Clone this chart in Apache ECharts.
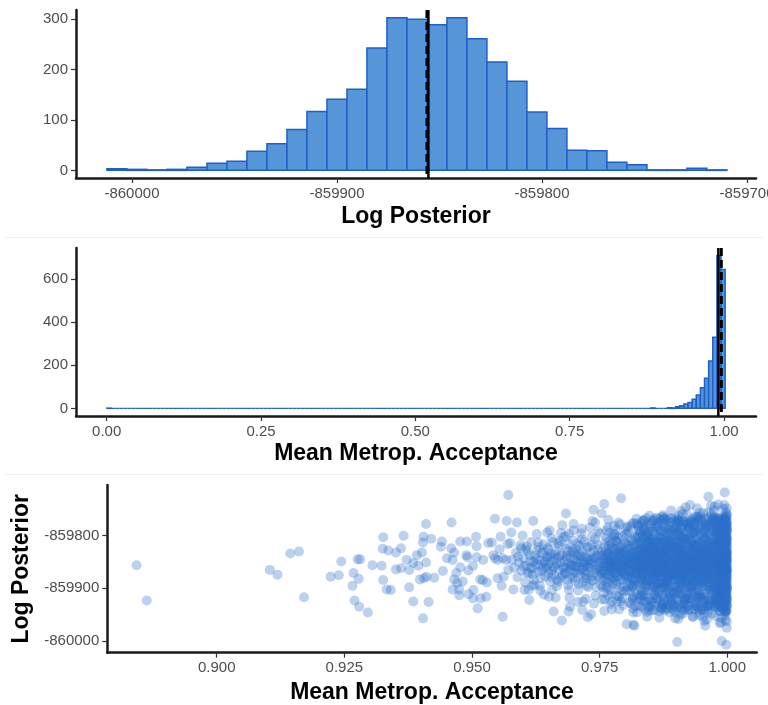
<!DOCTYPE html>
<html>
<head>
<meta charset="utf-8">
<script src="https://cdn.jsdelivr.net/npm/echarts@6/dist/echarts.min.js"></script>
<style>
  html, body { margin: 0; padding: 0; background: #fff; }
  #chart { width: 768px; height: 705px; }
</style>
</head>
<body>
<div id="chart"></div>
<script>
// ---- Log posterior histogram (31 equal-width bins) ----
const lpBinStart = -860012.2;
const lpBinWidth = 9.755;
const lpCounts = [3, 2, 1, 2, 6, 14, 18, 38, 53, 81, 117, 141, 161, 243, 303, 300,
                  289, 303, 261, 215, 177, 116, 83, 40, 39, 16, 11, 1, 1, 4, 1];
const lpMean = -859855.4;
const lpMedian = -859856.1;
const lpTicks = [-860000, -859900, -859800, -859700];
const lpCountTicks = [0, 100, 200, 300];

// ---- Mean Metropolis acceptance histogram (150 equal-width bins) ----
const accBinStart = 0.0004;
const accBinWidth = 0.006676;
const accCounts = [
  1, 0, 0, 0, 0, 0, 0, 0, 0, 0, 0, 0, 0, 0, 0, 0, 0, 0, 0, 0, 0, 0, 0, 0, 0,
  0, 0, 0, 0, 0, 0, 0, 0, 0, 0, 0, 0, 0, 0, 0, 0, 0, 0, 0, 0, 0, 0, 0, 0, 0,
  0, 0, 0, 0, 0, 0, 0, 0, 0, 0, 0, 0, 0, 0, 0, 0, 0, 0, 0, 0, 0, 0, 0, 0, 0,
  0, 0, 0, 0, 0, 0, 0, 0, 0, 0, 0, 0, 0, 0, 0, 0, 0, 0, 0, 0, 0, 0, 0, 0, 0,
  0, 0, 0, 0, 0, 0, 0, 0, 0, 0, 0, 0, 0, 0, 0, 0, 0, 0, 0, 0, 0, 0, 0, 0, 0,
  0, 0, 0, 0, 0, 0, 0, 2, 0, 0, 0, 3, 2, 8, 12, 20, 27, 42, 62, 95, 140, 220, 330, 708, 644
];
const accMean = 0.9908;
const accMedian = 0.9956;
const accTicks = [0, 0.25, 0.5, 0.75, 1.0];
const accCountTicks = [0, 200, 400, 600];

// ---- Acceptance vs log posterior, one point per draw ----
const scatterXTicks = [0.9, 0.925, 0.95, 0.975, 1.0];
const scatterYTicks = [-860000, -859900, -859800];

const sparsePts = [
  [.8843,-859856],[.8863,-859923],[.9104,-859865],[.9119,-859874],[.9144,-859834],[.9161,-859830],[.9171,-859917],
  [.9223,-859878],[.9239,-859875],[.9244,-859849],[.9268,-859871],[.9266,-859895],[.9278,-859882],[.9276,-859845],
  [.9281,-859845],[.9270,-859923],[.9279,-859935],[.9296,-859946],[.9305,-859856],[.9323,-859857],[.9325,-859825],
  [.9326,-859803],[.9326,-859884],
  [.9571,-859723],[.9366,-859800],[.9336,-859828],[.9351,-859832],[.9361,-859824],[.9333,-859902],[.9341,-859903],
  [.9351,-859864],[.9361,-859862],[.9372,-859846],[.9377,-859865],[.9385,-859852],[.9392,-859837],[.9395,-859857],
  [.9402,-859832],[.9410,-859851],[.9410,-859778],[.9405,-859802],[.9404,-859813],[.9420,-859806],[.9377,-859898],
  [.9385,-859925],[.9415,-859926],[.9404,-859957],[.9398,-859883],[.9406,-859881],[.9411,-859878],[.9426,-859880],
  [.9441,-859811],[.9439,-859821],[.9443,-859867],[.9451,-859843],[.9460,-859775],[.9459,-859824],[.9465,-859832],
  [.9462,-859846],[.9477,-859811],[.9490,-859811],[.9489,-859837],[.9491,-859841],[.9477,-859860],[.9469,-859871],
  [.9465,-859883],[.9462,-859902],[.9471,-859890],[.9475,-859902],[.9475,-859913],[.9482,-859887],[.9493,-859866],
  [.9502,-859857],[.9493,-859911],[.9503,-859903],[.9502,-859919],[.9511,-859938],[.9517,-859919],[.9528,-859916],
  [.9516,-859883],[.9521,-859884],[.9529,-859889],[.9509,-859820],[.9508,-859802],[.9509,-859841],[.9522,-859846],
  [.9532,-859814],[.9539,-859813],[.9545,-859768],[.9545,-859843],[.9542,-859837],[.9554,-859826],[.9556,-859802],
  [.9568,-859772],[.9550,-859846],[.9560,-859843],[.9567,-859846],[.9550,-859881],[.9558,-859895],[.9560,-859954],
  [.9562,-859878],[.9571,-859865],[.9570,-859816],
  [.9792,-859729],[.9759,-859740],[.9738,-859751],[.9736,-859772],[.9754,-859758],[.9684,-859758],[.9620,-859772],
  [.9588,-859775],[.9577,-859794],[.9677,-859780],[.9699,-859778],[.9714,-859796],[.9741,-859775],[.9767,-859770],
  [.9787,-859775],[.9647,-859794],[.9575,-859814],[.9596,-859824],[.9607,-859820],[.9630,-859813],[.9656,-859805],
  [.9669,-859814],[.9690,-859796],[.9715,-859807],[.9611,-859903],[.9603,-859903],[.9618,-859895],[.9633,-859895],
  [.9651,-859916],[.9660,-859944],[.9676,-859961],[.9689,-859944],[.9692,-859935],[.9716,-859941],[.9718,-859925],
  [.9727,-859955],[.9733,-859949],[.9759,-859943],[.9774,-859940],[.9788,-859940],[.9803,-859968],[.9816,-859969],
  [.9816,-859946],
  [.9963,-859726],[.9995,-859718],[.9836,-859772],[.9848,-859762],[.9874,-859761],[.9913,-859758],[.9947,-859764],
  [.9963,-859756],[.9998,-859756],[.9823,-859946],[.9818,-859971],[.9843,-859954],[.9867,-859956],[.9887,-859946],
  [.9908,-859950],[.9933,-859954],[.9957,-859971],[.9952,-859954],[.9988,-859965],[.9999,-859963],[.9902,-860002],
  [.9989,-860000],[.9998,-860007]
];

const midPts = [
  [.9578,-859846],[.9583,-859861],[.9586,-859832],[.9589,-859879],[.9592,-859851],[.9595,-859818],[.9597,-859866],
  [.9601,-859843],[.9604,-859889],[.9606,-859857],[.9609,-859829],[.9611,-859871],[.9614,-859848],[.9616,-859812],
  [.9618,-859863],[.9621,-859884],[.9623,-859838],[.9625,-859855],[.9628,-859827],[.9630,-859869],[.9632,-859846],
  [.9634,-859904],[.9636,-859834],[.9638,-859861],[.9640,-859817],[.9642,-859851],[.9644,-859878],[.9646,-859840],
  [.9647,-859862],[.9649,-859826],[.9651,-859853],[.9653,-859887],[.9655,-859835],[.9656,-859866],[.9658,-859812],
  [.9660,-859847],[.9661,-859874],[.9663,-859858],[.9665,-859829],[.9666,-859896],[.9668,-859842],[.9670,-859865],
  [.9671,-859819],[.9673,-859851],[.9675,-859880],[.9676,-859837],[.9678,-859859],[.9679,-859803],
  [.9581,-859902],[.9599,-859800],[.9612,-859922],[.9627,-859797],[.9641,-859912],[.9652,-859790],[.9664,-859918],
  [.9674,-859795],[.9590,-859840],[.9620,-859850],[.9645,-859858],[.9662,-859836],[.9635,-859880],[.9608,-859872],
  [.9657,-859903],[.9669,-859888],[.9677,-859875],[.9648,-859823],
  [.9681,-859848],[.9682,-859871],[.9684,-859825],[.9685,-859862],[.9686,-859839],[.9688,-859894],[.9689,-859853],
  [.9690,-859816],[.9692,-859866],[.9693,-859842],[.9694,-859878],[.9696,-859831],[.9697,-859857],[.9698,-859809],
  [.9700,-859869],[.9701,-859845],[.9702,-859887],[.9704,-859826],[.9705,-859858],[.9706,-859838],[.9708,-859904],
  [.9709,-859851],[.9710,-859819],[.9712,-859873],[.9713,-859844],[.9714,-859863],[.9716,-859829],[.9717,-859889],
  [.9718,-859852],[.9720,-859812],[.9721,-859867],[.9722,-859840],[.9724,-859881],[.9725,-859856],[.9726,-859823],
  [.9728,-859898],[.9729,-859846],[.9730,-859869],[.9732,-859834],[.9733,-859861],[.9734,-859802],[.9736,-859852],
  [.9737,-859885],[.9738,-859828],[.9740,-859870],[.9741,-859843],[.9742,-859914],[.9744,-859857],[.9745,-859817],
  [.9746,-859876],[.9748,-859839],[.9749,-859862],[.9750,-859796],[.9752,-859849],[.9753,-859893],[.9754,-859831],
  [.9756,-859866],[.9757,-859845],[.9758,-859908],[.9759,-859822],
  [.9683,-859801],[.9691,-859918],[.9699,-859790],[.9707,-859926],[.9715,-859787],[.9723,-859920],[.9731,-859785],
  [.9739,-859929],[.9747,-859792],[.9755,-859921],[.9687,-859884],[.9695,-859855],[.9703,-859871],[.9711,-859835],
  [.9719,-859880],[.9727,-859860],[.9735,-859818],[.9743,-859898],[.9751,-859868],[.9758,-859853],[.9685,-859843],
  [.9697,-859827],[.9709,-859892],[.9721,-859850],[.9733,-859879],[.9745,-859836],[.9757,-859884],[.9702,-859859],
  [.9726,-859842],[.9750,-859858],
  [.9760,-859847],[.9761,-859872],[.9762,-859829],[.9763,-859861],[.9764,-859805],[.9765,-859888],[.9766,-859844],
  [.9767,-859857],[.9768,-859820],[.9769,-859876],[.9770,-859838],[.9771,-859903],[.9772,-859852],[.9773,-859815],
  [.9774,-859866],[.9775,-859841],[.9776,-859880],[.9777,-859826],[.9778,-859859],[.9779,-859797],[.9780,-859870],
  [.9781,-859846],[.9782,-859893],[.9783,-859833],[.9784,-859862],[.9785,-859811],[.9786,-859877],[.9787,-859849],
  [.9788,-859916],[.9789,-859839],[.9790,-859855],[.9791,-859821],[.9792,-859884],[.9793,-859843],[.9794,-859868],
  [.9795,-859802],[.9796,-859858],[.9797,-859897],[.9798,-859831],[.9799,-859873],[.9800,-859848],[.9801,-859814],
  [.9802,-859864],[.9803,-859889],[.9804,-859836],[.9805,-859853],[.9806,-859792],[.9807,-859879],[.9808,-859845],
  [.9809,-859907],[.9810,-859825],[.9811,-859866],[.9812,-859840],[.9813,-859871],[.9814,-859808],[.9815,-859856],
  [.9816,-859894],[.9817,-859832],[.9818,-859861],[.9819,-859818],[.9820,-859883],[.9821,-859850],[.9822,-859838],
  [.9823,-859912],[.9824,-859859],[.9825,-859799],[.9826,-859874],[.9827,-859845],[.9828,-859826],[.9829,-859867],
  [.9760,-859921],[.9766,-859784],[.9772,-859930],[.9778,-859781],[.9784,-859925],[.9790,-859779],[.9796,-859932],
  [.9802,-859786],[.9808,-859927],[.9814,-859777],[.9820,-859934],[.9826,-859783],
  [.9762,-859853],[.9765,-859834],[.9768,-859868],[.9771,-859847],[.9774,-859822],[.9777,-859885],[.9780,-859857],
  [.9783,-859811],[.9786,-859842],[.9789,-859899],[.9792,-859864],[.9795,-859829],[.9798,-859851],[.9801,-859876],
  [.9804,-859817],[.9807,-859858],[.9810,-859891],[.9813,-859834],[.9816,-859853],[.9819,-859872],[.9822,-859816],
  [.9825,-859864],[.9828,-859887],
  [.9763,-859896],[.9769,-859811],[.9775,-859863],[.9781,-859872],[.9787,-859828],[.9793,-859858],[.9799,-859906],
  [.9805,-859842],[.9811,-859855],[.9817,-859884],[.9823,-859846],[.9829,-859836],
  [.9764,-859837],[.9776,-859849],[.9788,-859870],[.9800,-859833],[.9812,-859878],[.9824,-859830],[.9770,-859859],
  [.9782,-859839],[.9794,-859849],[.9806,-859866],[.9818,-859843],[.9828,-859855],
  [.9601,-859858],[.9613,-859837],[.9619,-859874],[.9626,-859845],[.9631,-859822],[.9637,-859866],[.9643,-859849],
  [.9650,-859871],[.9654,-859841],[.9659,-859860],[.9667,-859884],[.9672,-859838],[.9680,-859862],[.9687,-859830],
  [.9693,-859858],[.9699,-859880],[.9704,-859848],[.9710,-859866],[.9715,-859839],[.9719,-859857],[.9723,-859875],
  [.9727,-859821],[.9731,-859852],[.9735,-859885],[.9739,-859842],[.9743,-859864],[.9747,-859826],[.9751,-859881],
  [.9755,-859838],[.9759,-859870],
  [.9605,-859826],[.9622,-859893],[.9639,-859832],[.9656,-859879],[.9673,-859810],[.9690,-859903],[.9707,-859815],
  [.9724,-859895],[.9741,-859807],[.9756,-859898],
  [.9615,-859861],[.9632,-859855],[.9649,-859842],[.9666,-859853],[.9683,-859872],[.9700,-859833],[.9717,-859862],
  [.9734,-859846],[.9748,-859851],[.9753,-859873],
  [.9760,-859866],[.9763,-859838],[.9766,-859875],[.9769,-859852],[.9772,-859826],[.9775,-859892],[.9778,-859845],
  [.9781,-859809],[.9784,-859878],[.9787,-859861],[.9790,-859832],[.9793,-859905],[.9796,-859847],[.9799,-859815],
  [.9802,-859880],[.9805,-859826],[.9808,-859869],[.9811,-859842],[.9814,-859898],[.9817,-859857],[.9820,-859804],
  [.9823,-859871],[.9826,-859848],[.9829,-859914],
  [.9761,-859812],[.9764,-859899],[.9767,-859831],[.9770,-859884],[.9773,-859858],[.9776,-859802],[.9779,-859871],
  [.9782,-859852],[.9785,-859914],[.9788,-859822],[.9791,-859867],[.9794,-859835],[.9797,-859872],[.9800,-859798],
  [.9803,-859855],[.9806,-859897],[.9809,-859836],[.9812,-859810],[.9815,-859874],[.9818,-859828],[.9821,-859893],
  [.9824,-859841],[.9827,-859803],[.9829,-859859],
  [.9762,-859880],[.9765,-859854],[.9768,-859795],[.9771,-859862],[.9774,-859911],[.9777,-859839],[.9780,-859826],
  [.9783,-859888],[.9786,-859804],[.9789,-859853],[.9792,-859828],[.9795,-859882],[.9798,-859866],[.9801,-859845],
  [.9804,-859904],[.9807,-859818],[.9810,-859852],[.9813,-859883],[.9816,-859823],[.9819,-859846],[.9822,-859863],
  [.9825,-859920],[.9828,-859812],
  [.9764,-859790],[.9774,-859925],[.9784,-859789],[.9794,-859919],[.9804,-859782],[.9814,-859922],[.9824,-859780],
  [.9767,-859913],[.9779,-859798],[.9791,-859924],[.9803,-859796],[.9815,-859917],[.9827,-859790]
];

const densePts = [
  [.9830,-859852],[.9833,-859876],[.9836,-859824],[.9839,-859861],[.9842,-859838],[.9845,-859897],[.9848,-859845],
  [.9851,-859813],[.9854,-859869],[.9857,-859842],[.9860,-859885],[.9863,-859830],[.9866,-859858],[.9869,-859803],
  [.9872,-859872],[.9875,-859849],[.9878,-859911],[.9881,-859827],[.9884,-859863],
  [.9831,-859835],[.9834,-859799],[.9837,-859870],[.9840,-859851],[.9843,-859817],[.9846,-859881],[.9849,-859859],
  [.9852,-859926],[.9855,-859836],[.9858,-859866],[.9861,-859811],[.9864,-859892],[.9867,-859847],[.9870,-859828],
  [.9873,-859855],[.9876,-859790],[.9879,-859878],[.9882,-859843],[.9885,-859900],
  [.9832,-859888],[.9835,-859847],[.9838,-859806],[.9841,-859866],[.9844,-859853],[.9847,-859825],[.9850,-859873],
  [.9853,-859840],[.9856,-859795],[.9859,-859856],[.9862,-859918],[.9865,-859838],[.9868,-859879],[.9871,-859816],
  [.9874,-859864],[.9877,-859835],[.9880,-859893],[.9883,-859852],[.9885,-859809],
  [.9830,-859818],[.9833,-859861],[.9836,-859905],[.9839,-859829],[.9842,-859874],[.9845,-859849],[.9848,-859787],
  [.9851,-859862],[.9854,-859831],[.9857,-859896],[.9860,-859853],[.9863,-859870],[.9866,-859821],[.9869,-859844],
  [.9872,-859931],[.9875,-859824],[.9878,-859858],[.9881,-859881],[.9884,-859836],
  [.9831,-859869],[.9834,-859841],[.9837,-859788],[.9840,-859884],[.9843,-859857],[.9846,-859812],[.9849,-859834],
  [.9852,-859879],[.9855,-859858],[.9858,-859819],[.9861,-859848],[.9864,-859865],[.9867,-859801],[.9870,-859886],
  [.9873,-859842],[.9876,-859869],[.9879,-859818],[.9882,-859922],[.9885,-859856],
  [.9832,-859826],[.9835,-859914],[.9838,-859854],[.9841,-859800],[.9844,-859835],[.9847,-859868],[.9850,-859845],
  [.9853,-859906],[.9856,-859871],[.9859,-859830],[.9862,-859858],[.9865,-859784],[.9868,-859852],[.9871,-859899],
  [.9874,-859829],[.9877,-859875],[.9880,-859846],[.9883,-859806],[.9884,-859880],
  [.9833,-859777],[.9838,-859939],[.9843,-859779],[.9848,-859936],[.9853,-859772],[.9858,-859941],[.9863,-859776],
  [.9868,-859937],[.9873,-859770],[.9878,-859942],[.9883,-859774],[.9836,-859925],[.9846,-859792],[.9856,-859928],
  [.9866,-859790],[.9876,-859929],[.9881,-859793],
  [.9830,-859863],[.9835,-859830],[.9840,-859842],[.9845,-859863],[.9850,-859822],[.9855,-859848],[.9860,-859867],
  [.9865,-859851],[.9870,-859841],[.9875,-859861],[.9880,-859832],[.9885,-859845],[.9832,-859850],[.9837,-859856],
  [.9842,-859892],[.9847,-859840],[.9852,-859852],[.9857,-859857],[.9862,-859836],[.9867,-859870],[.9872,-859848],
  [.9877,-859853],[.9882,-859867],
  [.9831,-859904],[.9836,-859865],[.9841,-859814],[.9846,-859851],[.9851,-859889],[.9856,-859820],[.9861,-859901],
  [.9866,-859837],[.9871,-859860],[.9876,-859815],[.9881,-859857],[.9834,-859857],[.9839,-859896],[.9844,-859822],
  [.9849,-859870],[.9854,-859811],[.9859,-859876],[.9864,-859843],[.9869,-859865],[.9874,-859898],[.9879,-859838],
  [.9884,-859822],
  [.9830,-859841],[.9834,-859884],[.9838,-859838],[.9842,-859858],[.9846,-859833],[.9850,-859859],[.9854,-859883],
  [.9858,-859846],[.9862,-859824],[.9866,-859876],[.9870,-859857],[.9874,-859812],[.9878,-859840],[.9882,-859885],
  [.9833,-859815],[.9841,-859877],[.9849,-859805],[.9857,-859872],[.9865,-859910],[.9873,-859832],[.9881,-859868],
  [.9830,-859795],[.9833,-859923],[.9836,-859783],[.9839,-859912],[.9842,-859801],[.9845,-859918],[.9848,-859808],
  [.9851,-859933],[.9854,-859792],[.9857,-859913],[.9860,-859783],[.9863,-859920],[.9866,-859804],[.9869,-859926],
  [.9872,-859794],[.9875,-859916],[.9878,-859785],[.9881,-859908],[.9884,-859797],
  [.9831,-859856],[.9834,-859873],[.9837,-859836],[.9840,-859824],[.9843,-859887],[.9846,-859858],[.9849,-859843],
  [.9852,-859866],[.9855,-859824],[.9858,-859884],[.9861,-859867],[.9864,-859816],[.9867,-859890],[.9870,-859849],
  [.9873,-859878],[.9876,-859840],[.9879,-859860],[.9882,-859823],[.9885,-859874],
  [.9832,-859811],[.9835,-859866],[.9838,-859892],[.9841,-859845],[.9844,-859870],[.9847,-859809],[.9850,-859895],
  [.9853,-859823],[.9856,-859846],[.9859,-859905],[.9862,-859846],[.9865,-859869],[.9868,-859827],[.9871,-859838],
  [.9874,-859849],[.9877,-859897],[.9880,-859811],[.9883,-859887],[.9885,-859829],
  [.9830,-859882],[.9835,-859805],[.9840,-859903],[.9845,-859829],[.9850,-859808],[.9855,-859897],[.9860,-859835],
  [.9865,-859891],[.9870,-859806],[.9875,-859889],[.9880,-859869],[.9885,-859789],[.9837,-859771],[.9847,-859942],
  [.9857,-859768],[.9867,-859944],[.9877,-859766],[.9832,-859935],[.9852,-859776],[.9872,-859939]
];

const corePts = [
  [.9886,-859848],[.9892,-859873],[.9898,-859819],[.9904,-859862],[.9910,-859835],[.9916,-859891],[.9922,-859853],
  [.9928,-859806],[.9934,-859870],[.9940,-859841],[.9946,-859914],[.9952,-859828],[.9958,-859859],[.9964,-859797],
  [.9970,-859877],[.9976,-859846],[.9982,-859889],[.9988,-859822],[.9994,-859864],[.9999,-859837],
  [.9887,-859801],[.9893,-859866],[.9899,-859844],[.9905,-859907],[.9911,-859826],[.9917,-859858],[.9923,-859784],
  [.9929,-859880],[.9935,-859850],[.9941,-859817],[.9947,-859869],[.9953,-859896],[.9959,-859832],[.9965,-859855],
  [.9971,-859812],[.9977,-859925],[.9983,-859848],[.9989,-859872],[.9995,-859807],[.9998,-859883],
  [.9888,-859887],[.9894,-859830],[.9900,-859855],[.9906,-859792],[.9912,-859874],[.9918,-859840],[.9924,-859919],
  [.9930,-859825],[.9936,-859862],[.9942,-859846],[.9948,-859789],[.9954,-859866],[.9960,-859903],[.9966,-859838],
  [.9972,-859851],[.9978,-859799],[.9984,-859876],[.9990,-859934],[.9996,-859851],[.9999,-859779],
  [.9889,-859834],[.9895,-859909],[.9901,-859811],[.9907,-859848],[.9913,-859882],[.9919,-859816],[.9925,-859860],
  [.9931,-859895],[.9937,-859803],[.9943,-859873],[.9949,-859842],[.9955,-859821],[.9961,-859882],[.9967,-859778],
  [.9973,-859898],[.9979,-859857],[.9985,-859825],[.9991,-859868],[.9997,-859913],[.9999,-859845],
  [.9890,-859862],[.9896,-859787],[.9902,-859876],[.9908,-859829],[.9914,-859851],[.9920,-859936],[.9926,-859837],
  [.9932,-859865],[.9938,-859822],[.9944,-859893],[.9950,-859858],[.9956,-859804],[.9962,-859847],[.9968,-859868],
  [.9974,-859833],[.9980,-859915],[.9986,-859859],[.9992,-859795],[.9998,-859866],[.9997,-859828],
  [.9891,-859920],[.9897,-859845],[.9903,-859824],[.9909,-859868],[.9915,-859803],[.9921,-859877],[.9927,-859849],
  [.9933,-859829],[.9939,-859905],[.9945,-859833],[.9951,-859815],[.9957,-859886],[.9963,-859856],[.9969,-859923],
  [.9975,-859864],[.9981,-859810],[.9987,-859841],[.9993,-859893],[.9999,-859854],[.9996,-859818],
  [.9892,-859827],[.9898,-859900],[.9904,-859772],[.9910,-859859],[.9916,-859836],[.9922,-859889],[.9928,-859861],
  [.9934,-859794],[.9940,-859877],[.9946,-859855],[.9952,-859941],[.9958,-859839],[.9964,-859873],[.9970,-859820],
  [.9976,-859853],[.9982,-859781],[.9988,-859899],[.9994,-859842],[.9999,-859889],[.9995,-859861],
  [.9893,-859851],[.9899,-859813],[.9905,-859883],[.9911,-859847],[.9917,-859922],[.9923,-859833],[.9929,-859810],
  [.9935,-859867],[.9941,-859897],[.9947,-859825],[.9953,-859860],[.9959,-859780],[.9965,-859902],[.9971,-859846],
  [.9977,-859871],[.9983,-859826],[.9989,-859856],[.9995,-859929],[.9998,-859801],[.9997,-859870],
  [.9894,-859874],[.9900,-859836],[.9906,-859931],[.9912,-859808],[.9918,-859865],[.9924,-859843],[.9930,-859882],
  [.9936,-859774],[.9942,-859852],[.9948,-859918],[.9954,-859836],[.9960,-859867],[.9966,-859813],[.9972,-859885],
  [.9978,-859843],[.9984,-859906],[.9990,-859819],[.9996,-859874],[.9999,-859925],[.9993,-859846],
  [.9895,-859798],[.9901,-859864],[.9907,-859891],[.9913,-859823],[.9919,-859854],[.9925,-859802],[.9931,-859846],
  [.9937,-859909],[.9943,-859818],[.9949,-859879],[.9955,-859850],[.9961,-859797],[.9967,-859841],[.9973,-859863],
  [.9979,-859930],[.9985,-859845],[.9991,-859784],[.9997,-859837],[.9999,-859866],[.9994,-859908],
  [.9896,-859857],[.9902,-859840],[.9908,-859812],[.9914,-859895],[.9920,-859869],[.9926,-859786],[.9932,-859828],
  [.9938,-859874],[.9944,-859855],[.9950,-859799],[.9956,-859911],[.9962,-859829],[.9968,-859889],[.9974,-859805],
  [.9980,-859860],[.9986,-859820],[.9992,-859877],[.9998,-859843],[.9996,-859943],[.9999,-859812],
  [.9897,-859883],[.9903,-859903],[.9909,-859842],[.9915,-859866],[.9921,-859816],[.9927,-859926],[.9933,-859855],
  [.9939,-859837],[.9945,-859868],[.9951,-859890],[.9957,-859824],[.9963,-859766],[.9969,-859857],[.9975,-859897],
  [.9981,-859838],[.9987,-859870],[.9993,-859826],[.9999,-859897],[.9997,-859856],[.9995,-859788],
  [.9898,-859826],[.9904,-859851],[.9910,-859879],[.9916,-859786],[.9922,-859848],[.9928,-859894],[.9934,-859839],
  [.9940,-859808],[.9946,-859882],[.9952,-859847],[.9958,-859871],[.9964,-859833],[.9970,-859948],[.9976,-859815],
  [.9982,-859867],[.9988,-859843],[.9994,-859883],[.9999,-859832],[.9996,-859863],[.9998,-859920],
  [.9899,-859869],[.9905,-859818],[.9911,-859914],[.9917,-859844],[.9923,-859870],[.9929,-859837],[.9935,-859796],
  [.9941,-859861],[.9947,-859840],[.9953,-859807],[.9959,-859858],[.9965,-859881],[.9971,-859836],[.9977,-859791],
  [.9983,-859902],[.9989,-859829],[.9995,-859851],[.9999,-859804],[.9997,-859889],[.9993,-859870],
  [.9900,-859808],[.9906,-859858],[.9912,-859836],[.9918,-859899],[.9924,-859821],[.9930,-859862],[.9936,-859850],
  [.9942,-859917],[.9948,-859832],[.9954,-859885],[.9960,-859818],[.9966,-859862],[.9972,-859791],[.9978,-859878],
  [.9984,-859851],[.9990,-859862],[.9996,-859820],[.9999,-859871],[.9998,-859838],[.9994,-859801],
  [.9889,-859767],[.9897,-859945],[.9905,-859762],[.9913,-859948],[.9921,-859759],[.9929,-859942],[.9937,-859764],
  [.9945,-859951],[.9953,-859757],[.9961,-859946],[.9969,-859761],[.9977,-859953],[.9985,-859766],[.9993,-859940],
  [.9999,-859760],[.9996,-859951],[.9992,-859749],[.9975,-859745],[.9941,-859748],[.9910,-859753],
  [.9893,-859938],[.9909,-859772],[.9925,-859939],[.9941,-859775],[.9957,-859934],[.9973,-859771],[.9989,-859937],
  [.9999,-859773],[.9998,-859944],[.9901,-859776],[.9917,-859929],[.9933,-859768],[.9949,-859936],[.9965,-859778],
  [.9981,-859932],[.9997,-859767],
  [.9975,-859842],[.9977,-859866],[.9979,-859820],[.9981,-859884],[.9983,-859855],[.9985,-859801],[.9987,-859873],
  [.9989,-859836],[.9991,-859915],[.9993,-859858],[.9995,-859832],[.9997,-859879],[.9999,-859850],[.9998,-859792],
  [.9996,-859898],[.9994,-859823],[.9992,-859861],[.9990,-859845],[.9988,-859788],[.9986,-859907],
  [.9984,-859838],[.9982,-859861],[.9980,-859796],[.9978,-859903],[.9976,-859871],[.9999,-859822],[.9998,-859858],
  [.9997,-859905],[.9996,-859836],[.9995,-859873],[.9994,-859847],[.9993,-859782],[.9992,-859890],[.9991,-859830],
  [.9990,-859869],[.9989,-859813],[.9988,-859851],[.9987,-859926],[.9986,-859841],[.9985,-859866],
  [.9999,-859901],[.9999,-859786],[.9998,-859847],[.9998,-859875],[.9997,-859813],[.9996,-859857],[.9995,-859894],
  [.9994,-859866],[.9993,-859819],[.9992,-859842],[.9991,-859874],[.9990,-859799],[.9989,-859884],[.9988,-859866],
  [.9987,-859823],[.9986,-859853],[.9985,-859889],[.9984,-859807],[.9983,-859842],[.9982,-859921],
  [.9999,-859833],[.9999,-859862],[.9998,-859814],[.9998,-859909],[.9997,-859842],[.9996,-859876],[.9995,-859846],
  [.9994,-859787],[.9993,-859903],[.9992,-859855],[.9991,-859808],[.9990,-859884],[.9989,-859844],[.9988,-859874],
  [.9987,-859797],[.9986,-859830],[.9985,-859914],[.9984,-859862],[.9983,-859825],[.9982,-859850],
  [.9999,-859876],[.9999,-859818],[.9998,-859863],[.9998,-859828],[.9997,-859890],[.9996,-859810],[.9995,-859859],
  [.9994,-859934],[.9993,-859838],[.9992,-859800],[.9991,-859861],[.9990,-859834],[.9989,-859905],[.9988,-859826],
  [.9987,-859858],[.9986,-859879],[.9985,-859817],[.9984,-859888],[.9983,-859868],[.9981,-859842],
  [.9999,-859846],[.9999,-859932],[.9998,-859804],[.9998,-859881],[.9997,-859776],[.9996,-859840],[.9995,-859912],
  [.9994,-859857],[.9993,-859880],[.9992,-859822],[.9991,-859897],[.9990,-859852],[.9989,-859770],[.9988,-859843],
  [.9987,-859893],[.9986,-859815],[.9985,-859852],[.9984,-859827],[.9983,-859899],[.9980,-859864],
  [.9887,-859856],[.9891,-859839],[.9895,-859876],[.9899,-859859],[.9903,-859793],[.9907,-859869],[.9911,-859892],
  [.9915,-859827],[.9919,-859883],[.9923,-859856],[.9927,-859818],[.9931,-859870],[.9935,-859831],[.9939,-859858],
  [.9943,-859899],[.9947,-859801],[.9951,-859864],[.9955,-859872],[.9959,-859846],[.9963,-859821],[.9967,-859895],
  [.9971,-859862],[.9975,-859809],
  [.9888,-859815],[.9892,-859906],[.9896,-859822],[.9900,-859880],[.9904,-859838],[.9908,-859900],[.9912,-859854],
  [.9916,-859862],[.9920,-859800],[.9924,-859884],[.9928,-859844],[.9932,-859912],[.9936,-859819],[.9940,-859843],
  [.9944,-859786],[.9948,-859860],[.9952,-859822],[.9956,-859848],[.9960,-859930],[.9964,-859844],[.9968,-859806],
  [.9972,-859869],[.9976,-859830],
  [.9889,-859893],[.9893,-859825],[.9897,-859862],[.9901,-859826],[.9905,-859852],[.9909,-859804],[.9913,-859867],
  [.9917,-859876],[.9921,-859838],[.9925,-859898],[.9929,-859853],[.9933,-859882],[.9937,-859845],[.9941,-859830],
  [.9945,-859908],[.9949,-859851],[.9953,-859831],[.9957,-859797],[.9961,-859866],[.9965,-859838],[.9969,-859880],
  [.9973,-859848],[.9977,-859887],
  [.9886,-859866],[.9890,-859825],[.9894,-859853],[.9898,-859874],[.9902,-859908],[.9906,-859823],[.9910,-859837],
  [.9914,-859876],[.9918,-859808],[.9922,-859862],[.9926,-859883],[.9930,-859833],[.9934,-859862],[.9938,-859890],
  [.9942,-859814],[.9946,-859868],[.9950,-859837],[.9954,-859910],[.9958,-859852],[.9962,-859877],[.9966,-859829],
  [.9970,-859872],[.9974,-859850],
  [.9886,-859781],[.9890,-859926],[.9894,-859790],[.9898,-859917],[.9902,-859779],[.9906,-859911],[.9910,-859787],
  [.9914,-859929],[.9918,-859776],[.9922,-859913],[.9926,-859771],[.9930,-859921],[.9934,-859783],[.9938,-859932],
  [.9942,-859791],[.9946,-859914],[.9950,-859772],[.9954,-859926],[.9958,-859786],[.9962,-859933],[.9966,-859794],
  [.9970,-859910],[.9974,-859778],[.9978,-859925],[.9982,-859769],[.9986,-859918],[.9990,-859777],[.9994,-859928],
  [.9998,-859783],
  [.9887,-859912],[.9891,-859793],[.9895,-859931],[.9899,-859785],[.9903,-859922],[.9907,-859773],[.9911,-859937],
  [.9915,-859796],[.9919,-859920],[.9923,-859780],[.9927,-859909],[.9931,-859775],[.9935,-859927],[.9939,-859788],
  [.9943,-859935],[.9947,-859770],[.9951,-859919],[.9955,-859791],[.9959,-859924],[.9963,-859782],[.9967,-859932],
  [.9971,-859769],[.9975,-859916],[.9979,-859787],[.9983,-859936],[.9987,-859775],[.9991,-859921],[.9995,-859769],
  [.9999,-859934],
  [.9888,-859852],[.9892,-859883],[.9896,-859869],[.9900,-859823],[.9904,-859895],[.9908,-859853],[.9912,-859817],
  [.9916,-859877],[.9920,-859846],[.9924,-859806],[.9928,-859872],[.9932,-859849],[.9936,-859888],[.9940,-859824],
  [.9944,-859866],[.9948,-859846],[.9952,-859880],[.9956,-859830],[.9960,-859853],[.9964,-859895],[.9968,-859839],
  [.9972,-859818],[.9976,-859885],[.9980,-859840],[.9984,-859869],[.9988,-859811],[.9992,-859857],[.9996,-859894],
  [.9999,-859829],
  [.9889,-859808],[.9893,-859846],[.9897,-859895],[.9901,-859848],[.9905,-859830],[.9909,-859888],[.9913,-859840],
  [.9917,-859806],[.9921,-859862],[.9925,-859839],[.9929,-859900],[.9933,-859813],[.9937,-859868],[.9941,-859882],
  [.9945,-859810],[.9949,-859895],[.9953,-859845],[.9957,-859866],[.9961,-859814],[.9965,-859874],[.9969,-859843],
  [.9973,-859904],[.9977,-859823],[.9981,-859856],[.9985,-859893],[.9989,-859860],[.9993,-859806],[.9997,-859849],
  [.9999,-859896],
  [.9999,-859795],[.9999,-859918],[.9998,-859858],[.9998,-859770],[.9997,-859929],[.9997,-859800],[.9996,-859885],
  [.9996,-859780],[.9995,-859936],[.9995,-859814],[.9994,-859872],[.9994,-859764],[.9993,-859920],[.9993,-859853],
  [.9992,-859787],[.9992,-859933],[.9991,-859848],[.9991,-859771],[.9990,-859905],[.9990,-859819],[.9989,-859937],
  [.9989,-859791],[.9988,-859880],[.9988,-859910],[.9987,-859768],[.9987,-859846],[.9986,-859930],[.9986,-859794],
  [.9985,-859874],[.9985,-859776],
  [.9984,-859922],[.9984,-859853],[.9983,-859784],[.9983,-859912],[.9982,-859833],[.9982,-859898],[.9981,-859774],
  [.9981,-859926],[.9980,-859845],[.9980,-859789],[.9979,-859908],[.9979,-859870],[.9978,-859777],[.9978,-859935],
  [.9977,-859834],[.9977,-859899],[.9976,-859780],[.9976,-859918],[.9975,-859857],[.9975,-859793],
  [.9890,-859752],[.9904,-859958],[.9918,-859746],[.9932,-859954],[.9946,-859757],[.9960,-859959],[.9974,-859752],
  [.9988,-859956],[.9999,-859748],[.9996,-859960],[.9982,-859741],[.9955,-859962],[.9927,-859742],[.9898,-859957],
  [.9999,-859975],[.9994,-859742],[.9985,-859966],[.9968,-859743]
];

const edgePts = [
  [.9811,-859783],[.9821,-859902],[.9831,-859841],[.9841,-859767],[.9851,-859925],[.9861,-859858],[.9871,-859806],
  [.9881,-859889],[.9891,-859775],[.9901,-859937],[.9911,-859829],[.9921,-859866],[.9931,-859795],[.9941,-859915],
  [.9951,-859851],[.9961,-859781],[.9971,-859906],[.9981,-859838],[.9991,-859772],[.9999,-859922],
  [.9816,-859918],[.9826,-859815],[.9836,-859873],[.9846,-859935],[.9856,-859792],[.9866,-859846],[.9876,-859927],
  [.9886,-859772],[.9896,-859864],[.9906,-859808],[.9916,-859941],[.9926,-859785],[.9936,-859878],[.9946,-859833],
  [.9956,-859769],[.9966,-859899],[.9976,-859826],[.9986,-859944],[.9996,-859861],[.9999,-859790],
  [.9813,-859860],[.9823,-859777],[.9833,-859908],[.9843,-859826],[.9853,-859854],[.9863,-859781],[.9873,-859913],
  [.9883,-859843],[.9893,-859921],[.9903,-859798],[.9913,-859871],[.9923,-859932],[.9933,-859818],[.9943,-859765],
  [.9953,-859886],[.9963,-859942],[.9973,-859849],[.9983,-859803],[.9993,-859927],[.9999,-859866],
  [.9818,-859801],[.9828,-859934],[.9838,-859789],[.9848,-859885],[.9858,-859910],[.9868,-859830],[.9878,-859768],
  [.9888,-859917],[.9898,-859812],[.9908,-859884],[.9918,-859775],[.9928,-859848],[.9938,-859929],[.9948,-859890],
  [.9958,-859806],[.9968,-859827],[.9978,-859771],[.9988,-859912],[.9998,-859836],[.9999,-859941],
  [.9815,-859938],[.9825,-859852],[.9835,-859829],[.9845,-859796],[.9855,-859771],[.9865,-859903],[.9875,-859869],
  [.9885,-859796],[.9895,-859933],[.9905,-859862],[.9915,-859909],[.9925,-859788],[.9935,-859846],[.9945,-859781],
  [.9955,-859923],[.9965,-859868],[.9975,-859935],[.9985,-859784],[.9995,-859893],[.9999,-859808],
  [.9820,-859873],[.9830,-859790],[.9840,-859925],[.9850,-859817],[.9860,-859879],[.9870,-859938],[.9880,-859822],
  [.9890,-859858],[.9900,-859767],[.9910,-859930],[.9920,-859852],[.9930,-859905],[.9940,-859764],[.9950,-859874],
  [.9960,-859837],[.9970,-859918],[.9980,-859801],[.9990,-859863],[.9999,-859790],[.9998,-859919],
  [.9817,-859776],[.9827,-859889],[.9837,-859857],[.9847,-859921],[.9857,-859818],[.9867,-859769],[.9877,-859893],
  [.9887,-859931],[.9897,-859844],[.9907,-859799],[.9917,-859923],[.9927,-859815],[.9937,-859887],[.9947,-859940],
  [.9957,-859776],[.9967,-859851],[.9977,-859891],[.9987,-859828],[.9997,-859945],[.9999,-859777],
  [.9814,-859896],[.9824,-859830],[.9834,-859771],[.9844,-859863],[.9854,-859942],[.9864,-859810],[.9874,-859776],
  [.9884,-859881],[.9894,-859898],[.9904,-859771],[.9914,-859835],[.9924,-859919],[.9934,-859794],[.9944,-859859],
  [.9954,-859941],[.9964,-859812],[.9974,-859767],[.9984,-859874],[.9994,-859813],[.9999,-859884],
  [.9819,-859842],[.9829,-859919],[.9839,-859796],[.9849,-859779],[.9859,-859832],[.9869,-859891],[.9879,-859937],
  [.9889,-859808],[.9899,-859786],[.9909,-859910],[.9919,-859879],[.9929,-859773],[.9939,-859934],[.9949,-859828],
  [.9959,-859893],[.9969,-859774],[.9979,-859920],[.9989,-859852],[.9999,-859907],[.9998,-859780],
  [.9812,-859929],[.9822,-859768],[.9832,-859880],[.9842,-859945],[.9852,-859803],[.9862,-859766],[.9872,-859854],
  [.9882,-859939],[.9892,-859874],[.9902,-859823],[.9912,-859780],[.9922,-859897],[.9932,-859853],[.9942,-859767],
  [.9952,-859818],[.9962,-859933],[.9972,-859845],[.9982,-859786],[.9992,-859870],[.9999,-859902],
  [.9860,-859812],[.9867,-859868],[.9874,-859935],[.9881,-859784],[.9888,-859846],[.9895,-859907],[.9902,-859770],
  [.9909,-859889],[.9916,-859825],[.9923,-859941],[.9930,-859861],[.9937,-859793],[.9944,-859918],[.9951,-859838],
  [.9958,-859779],[.9965,-859899],[.9972,-859853],[.9979,-859766],[.9986,-859926],[.9993,-859832],
  [.9863,-859920],[.9870,-859791],[.9877,-859843],[.9884,-859906],[.9891,-859768],[.9898,-859829],[.9905,-859884],
  [.9912,-859942],[.9919,-859806],[.9926,-859858],[.9933,-859778],[.9940,-859926],[.9947,-859864],[.9954,-859795],
  [.9961,-859934],[.9968,-859815],[.9975,-859877],[.9982,-859902],[.9989,-859789],[.9996,-859944],
  [.9865,-859776],[.9872,-859930],[.9879,-859809],[.9886,-859862],[.9893,-859925],[.9900,-859795],[.9907,-859848],
  [.9914,-859772],[.9921,-859910],[.9928,-859833],[.9935,-859939],[.9942,-859880],[.9949,-859770],[.9956,-859917],
  [.9963,-859843],[.9970,-859787],[.9977,-859935],[.9984,-859823],[.9991,-859868],[.9998,-859763],
  [.9861,-859893],[.9868,-859842],[.9875,-859769],[.9882,-859931],[.9889,-859811],[.9896,-859873],[.9903,-859935],
  [.9910,-859803],[.9917,-859851],[.9924,-859775],[.9931,-859897],[.9938,-859841],[.9945,-859945],[.9952,-859809],
  [.9959,-859882],[.9966,-859928],[.9973,-859764],[.9980,-859895],[.9987,-859841],[.9994,-859901],
  [.9866,-859836],[.9873,-859764],[.9880,-859898],[.9887,-859820],[.9894,-859941],[.9901,-859857],[.9908,-859786],
  [.9915,-859920],[.9922,-859779],[.9929,-859897],[.9936,-859818],[.9943,-859939],[.9950,-859783],[.9957,-859873],
  [.9964,-859922],[.9971,-859768],[.9978,-859835],[.9985,-859943],[.9992,-859797],[.9999,-859869],
  [.9999,-859763],[.9998,-859775],[.9999,-859788],[.9997,-859797],[.9999,-859806],[.9998,-859815],[.9999,-859824],
  [.9997,-859834],[.9999,-859843],[.9998,-859852],[.9999,-859861],[.9997,-859870],[.9999,-859879],[.9998,-859888],
  [.9999,-859897],[.9997,-859906],[.9999,-859915],[.9998,-859924],[.9999,-859933],[.9997,-859942],
  [.9996,-859769],[.9995,-859782],[.9996,-859801],[.9995,-859819],[.9996,-859838],[.9995,-859856],[.9996,-859875],
  [.9995,-859893],[.9996,-859911],[.9995,-859929],[.9993,-859773],[.9992,-859809],[.9993,-859845],[.9992,-859883],
  [.9993,-859917],[.9991,-859791],[.9990,-859827],[.9991,-859866],[.9990,-859901],[.9991,-859938]
];

// ---- shared styling ----
const FONT = '"Liberation Sans", Arial, Helvetica, sans-serif';
const BAR_FILL = '#5695d7';
const BAR_EDGE = '#1f60c8';
const POINT_COLOR = '#2b6fca';

function histData(start, width, counts) {
  return counts.map((c, i) => [start + i * width, start + (i + 1) * width, c]);
}

function renderBin(params, api) {
  const lo = api.coord([api.value(0), 0]);
  const hi = api.coord([api.value(1), api.value(2)]);
  if (api.value(2) === 0) {
    return {
      type: 'line',
      shape: { x1: lo[0], y1: lo[1], x2: hi[0], y2: lo[1] },
      style: { stroke: BAR_EDGE, lineWidth: 1.2 }
    };
  }
  return {
    type: 'rect',
    shape: { x: lo[0], y: hi[1], width: hi[0] - lo[0], height: lo[1] - hi[1] },
    style: { fill: BAR_FILL, stroke: BAR_EDGE, lineWidth: 1.5 }
  };
}

// mean (solid) and median (dashed) reference lines spanning the panel
function renderRefLine(params, api) {
  const cs = params.coordSys;
  const x = api.coord([api.value(0), 0])[0];
  const dashed = api.value(1) === 1;
  return {
    type: 'line',
    shape: { x1: x, y1: cs.y, x2: x, y2: cs.y + cs.height },
    style: { stroke: '#000', lineWidth: dashed ? 3 : 2.5, lineDash: dashed ? [8, 4] : null }
  };
}

function valueAxis(opts) {
  return Object.assign({
    type: 'value',
    axisLine: { show: true, onZero: false, lineStyle: { color: '#1a1a1a', width: 2.5 } },
    axisTick: { show: true, length: 5, lineStyle: { color: '#333', width: 1.2 }, customValues: opts.ticks },
    axisLabel: {
      customValues: opts.ticks, formatter: opts.fmt || (v => String(v)),
      color: '#4d4d4d', fontSize: 15, fontFamily: FONT, margin: 8
    },
    splitLine: { show: false },
    nameLocation: 'middle',
    nameTextStyle: { fontWeight: 'bold', fontSize: 23, color: '#000', fontFamily: FONT }
  }, opts.extra);
}

const chart = echarts.init(document.getElementById('chart'), null, { renderer: 'canvas' });

chart.setOption({
  animation: false,
  backgroundColor: '#fff',
  grid: [
    { left: 76, top: 10, width: 680, height: 168, containLabel: false, outerBoundsMode: 'none' },
    { left: 76, top: 248, width: 680, height: 168, containLabel: false, outerBoundsMode: 'none' },
    { left: 107.3, top: 485, width: 649.4, height: 167.7, containLabel: false, outerBoundsMode: 'none' }
  ],
  xAxis: [
    valueAxis({ ticks: lpTicks, extra: { gridIndex: 0, min: -860027.3, max: -859695.6, name: 'Log Posterior', nameGap: 27 } }),
    valueAxis({ ticks: accTicks, fmt: v => v.toFixed(2), extra: { gridIndex: 1, min: -0.0497, max: 1.0518, name: 'Mean Metrop. Acceptance', nameGap: 26 } }),
    valueAxis({ ticks: scatterXTicks, fmt: v => v.toFixed(3), extra: { gridIndex: 2, min: 0.87857, max: 1.00576, name: 'Mean Metrop. Acceptance', nameGap: 28 } })
  ],
  yAxis: [
    valueAxis({ ticks: lpCountTicks, extra: { gridIndex: 0, min: -15.15, max: 318.15 } }),
    valueAxis({ ticks: accCountTicks, extra: { gridIndex: 1, min: -35.4, max: 743.4 } }),
    valueAxis({ ticks: scatterYTicks, extra: { gridIndex: 2, min: -860022.2, max: -859703.8, name: 'Log Posterior', nameGap: 62, nameRotate: 90 } })
  ],
  series: [
    {
      type: 'custom', xAxisIndex: 0, yAxisIndex: 0, renderItem: renderBin,
      encode: { x: [0, 1], y: 2 }, data: histData(lpBinStart, lpBinWidth, lpCounts), silent: true
    },
    {
      type: 'custom', xAxisIndex: 0, yAxisIndex: 0, renderItem: renderRefLine,
      data: [[lpMean, 0], [lpMedian, 1]], silent: true, z: 5
    },
    {
      type: 'custom', xAxisIndex: 1, yAxisIndex: 1, renderItem: renderBin,
      encode: { x: [0, 1], y: 2 }, data: histData(accBinStart, accBinWidth, accCounts), silent: true
    },
    {
      type: 'custom', xAxisIndex: 1, yAxisIndex: 1, renderItem: renderRefLine,
      data: [[accMean, 0], [accMedian, 1]], silent: true, z: 5
    },
    {
      type: 'scatter', xAxisIndex: 2, yAxisIndex: 2, symbol: 'circle', symbolSize: 10,
      itemStyle: { color: POINT_COLOR, opacity: 0.32 }, silent: true, large: false,
      data: sparsePts.concat(midPts, densePts, corePts, edgePts)
    }
  ],
  graphic: [
    { type: 'line', shape: { x1: 5, y1: 237.5, x2: 763, y2: 237.5 }, style: { stroke: '#f0f0f0', lineWidth: 1 }, silent: true },
    { type: 'line', shape: { x1: 5, y1: 474.5, x2: 763, y2: 474.5 }, style: { stroke: '#f0f0f0', lineWidth: 1 }, silent: true }
  ]
});
</script>
</body>
</html>
